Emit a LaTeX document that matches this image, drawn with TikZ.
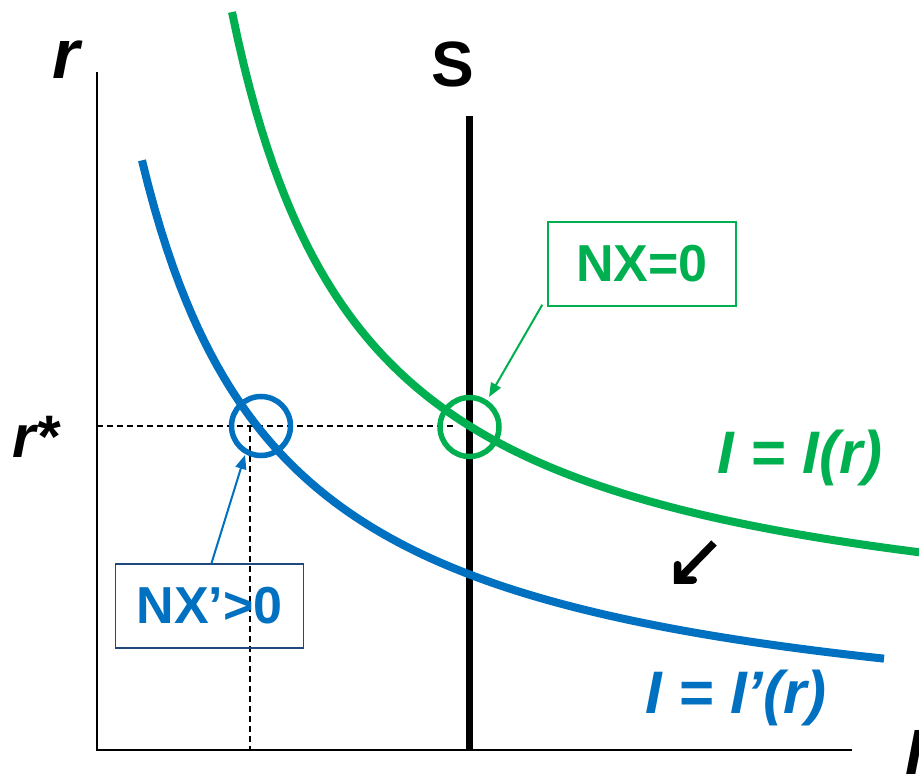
\documentclass[tikz,border=0pt]{standalone}
\usepackage{fontspec}
\setmainfont{Liberation Sans}
\usetikzlibrary{arrows.meta}
\definecolor{cgreen}{RGB}{0,176,80}
\definecolor{cblue}{RGB}{0,112,192}
\definecolor{cnavy}{RGB}{31,73,125}
\tikzset{
  axis/.style={line width=2pt, black},
  curve/.style={line width=8pt},
  guide/.style={line width=1.5pt, dash pattern=on 6pt off 4pt},
  ring/.style={circle, draw, line width=5.5pt, minimum size=59pt, inner sep=0pt},
  labelbox/.style={draw, line width=1.5pt, minimum width=188pt, minimum height=84pt, inner sep=0pt,
    font=\fontsize{52}{52}\selectfont\bfseries},
  pointer/.style={line width=2pt, -{Triangle[length=14pt,width=11pt]}},
  big/.style={font=\fontsize{#1}{#1}\selectfont\bfseries\itshape, inner sep=0pt},
}
\begin{document}
\begin{tikzpicture}[x=1pt,y=-1pt]
\useasboundingbox[fill=white] (0,0) rectangle (919,776);
% axes
\coordinate (o) at (97,750);
\coordinate (ytop) at (97,72);
\coordinate (xend) at (852,750);
\draw[axis] (ytop) -- (o) -- (xend);
% guides
\coordinate (hl) at (97,426);
\coordinate (hr) at (455,426);
\coordinate (vt) at (250,426);
\coordinate (vb) at (250,750);
\draw[guide] (hl) -- (hr);
\draw[guide] (vt) -- (vb);
% S line
\coordinate (stop) at (469,116);
\coordinate (sbot) at (469,750);
\draw[line width=7pt] (stop) -- (sbot);
% curves
\draw[curve, cgreen] plot[domain=232:925, samples=120] (\x, {656-850/((\x-100)/100)});
\draw[curve, cblue] plot[domain=142:884, samples=120] (\x, {754-843/(\x/100)});
% circles
\node[ring, cblue] (bc) at (261,426) {};
\node[ring, cgreen] (gc) at (469.5,427) {};
% boxes
\node[labelbox, cgreen] (gb) at (642,264) {NX=0};
\node[labelbox, cnavy, text=cblue] (bb) at (209.5,606) {NX’>0};
% pointers
\coordinate (btip) at (245,455);
\coordinate (gtip) at (489,397);
\draw[pointer, cblue] ([xshift=2pt]bb.north) -- (btip);
\draw[pointer, cgreen] ([xshift=-5pt,yshift=2pt]gb.south west) -- (gtip);
% shift arrow
\coordinate (sa) at (714,543);
\coordinate (sb) at (674,584);
\draw[line width=7.5pt, -{Straight Barb[length=11pt,width=22pt,line cap=round,line join=miter]}] (sa) -- (sb);
% labels
\node[big=70, anchor=base] (rl) at (66,78) {r};
\node[font=\fontsize{64}{64}\selectfont\bfseries, inner sep=0pt, anchor=base] (sl) at (453,87) {S};
\node[big=60, anchor=base west] (rs) at (12,457) {r*};
\node[big=60, anchor=base, text=cgreen] (gl) at (800,473) {I = I(r)};
\node[big=60, anchor=base, text=cblue] (bl) at (736,713) {I = I’(r)};
\node[big=64, anchor=north west] (il) at (905,730) {I};
\end{tikzpicture}
\end{document}
